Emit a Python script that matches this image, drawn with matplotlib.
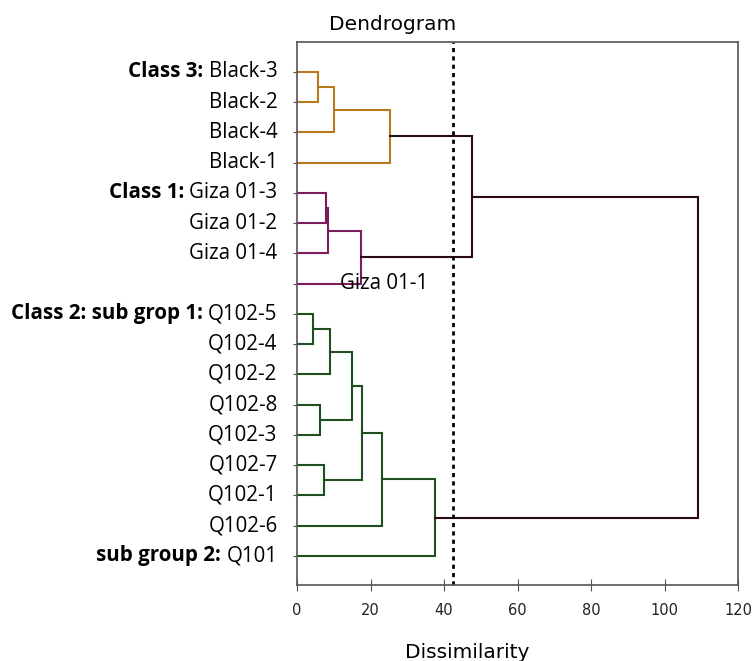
import matplotlib
matplotlib.use("Agg")
import matplotlib.pyplot as plt

# leaves, top to bottom
leaves = ["Black-3", "Black-2", "Black-4", "Black-1",
          "Giza 01-3", "Giza 01-2", "Giza 01-4", "Giza 01-1",
          "Q102-5", "Q102-4", "Q102-2", "Q102-8", "Q102-3",
          "Q102-7", "Q102-1", "Q102-6", "Q101"]
# bold prefix shown before some leaf labels
prefixes = {"Black-3": "Class 3:", "Giza 01-3": "Class 1:",
            "Q102-5": "Class 2: sub grop 1:", "Q101": "sub group 2:"}

# merges: (left, right, dissimilarity, group)
merges = [
    ("Black-3", "Black-2", 5.8, "black"),
    ("n0", "Black-4", 10.2, "black"),
    ("n1", "Black-1", 25.3, "black"),
    ("Giza 01-3", "Giza 01-2", 7.9, "giza"),
    ("n3", "Giza 01-4", 8.5, "giza"),
    ("n4", "Giza 01-1", 17.4, "giza"),
    ("n2", "n5", 47.7, "top"),
    ("Q102-5", "Q102-4", 4.4, "q"),
    ("n7", "Q102-2", 9.0, "q"),
    ("Q102-8", "Q102-3", 6.3, "q"),
    ("n8", "n9", 15.1, "q"),
    ("Q102-7", "Q102-1", 7.4, "q"),
    ("n10", "n11", 17.6, "q"),
    ("n12", "Q102-6", 23.0, "q"),
    ("n13", "Q101", 37.6, "q"),
    ("n6", "n14", 109.2, "top"),
]
truncation = 42.5
xticks = [0, 20, 40, 60, 80, 100, 120]

colors = {"black": "#b87a1e", "giza": "#7a1f5c", "q": "#1f4f1f", "top": "#2a0a14"}

fig = plt.figure(figsize=(7.53, 6.61), dpi=100)
ax = fig.add_axes([297 / 753, 1 - 585 / 661, 441 / 753, 543 / 661])

pos = {name: (0.0, i) for i, name in enumerate(leaves)}
for k, (a, b, h, g) in enumerate(merges):
    xa, ya = pos[a]
    xb, yb = pos[b]
    c = colors[g]
    ax.plot([xa, h, h, xb], [ya, ya, yb, yb], color=c, lw=1.5, solid_joinstyle="miter")
    pos["n%d" % k] = (h, (ya + yb) / 2)

ax.axvline(truncation, color="black", lw=2, ls=(0, (1.5, 1.5)))

ax.set_xlim(0, 120)
ax.set_ylim(16.96, -0.99)
ax.set_xticks(xticks)
ax.tick_params(axis="x", direction="inout", length=8, labelsize=10.5, colors="#555555",
               labelcolor="#222222", pad=9)
ax.set_yticks(range(len(leaves)))
ax.set_yticklabels([])
ax.tick_params(axis="y", length=3, colors="#555555")
for s in ax.spines.values():
    s.set_color("#555555")
    s.set_linewidth(1.2)

fs = 14.8
for i, name in enumerate(leaves):
    if name == "Giza 01-1":
        ax.text(11.7, i, name, fontsize=fs, va="center", ha="left", family="Open Sans")
        continue
    t = ax.annotate(name, xy=(0, i), xycoords=("axes fraction", "data"),
                    xytext=(-14, 0), textcoords="offset points",
                    ha="right", va="center", fontsize=fs, family="Open Sans")
    if name in prefixes:
        ax.annotate(prefixes[name] + " ", xy=(0, 1), xycoords=t,
                    ha="right", va="top", fontsize=fs, fontweight="bold",
                    family="Open Sans")

fig.text(393 / 753, 1 - 25 / 661, "Dendrogram", ha="center", va="center",
         fontsize=14.5, family="DejaVu Sans")
fig.text(467 / 753, 1 - 652 / 661, "Dissimilarity", ha="center", va="center",
         fontsize=14.5, family="DejaVu Sans")

fig.savefig("out.png", dpi=100)
